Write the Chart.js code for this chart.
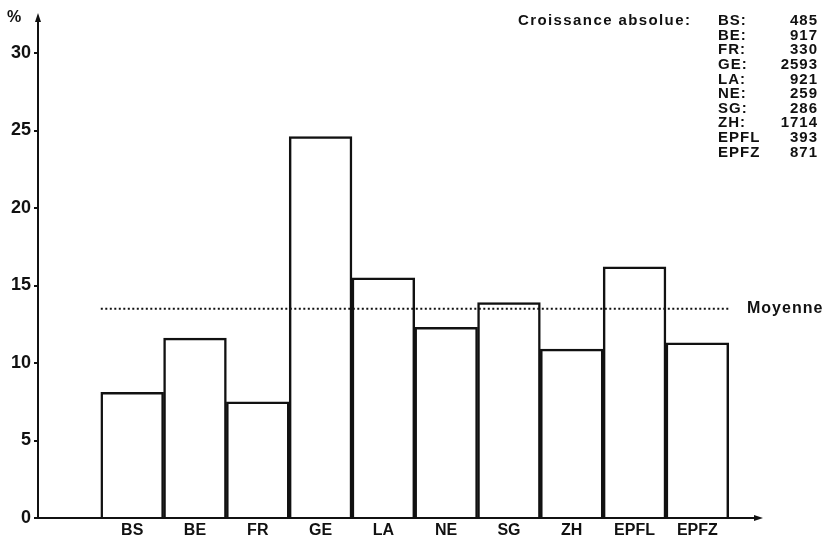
<!DOCTYPE html>
<html>
<head>
<meta charset="utf-8">
<script src="https://cdn.jsdelivr.net/npm/chart.js@4.4.0/dist/chart.umd.min.js"></script>
<style>
  html, body { margin: 0; padding: 0; background: #fff; }
  #wrap { width: 828px; height: 547px; }
</style>
</head>
<body>
<div id="wrap"><canvas id="growth"></canvas></div>
<script>
const categories = ["BS", "BE", "FR", "GE", "LA", "NE", "SG", "ZH", "EPFL", "EPFZ"];
const growthPct = [8.1, 11.6, 7.5, 24.6, 15.5, 12.3, 13.9, 10.9, 16.2, 11.3];
const absoluteGrowth = [485, 917, 330, 2593, 921, 259, 286, 1714, 393, 871];
const averagePct = 13.5;
const yTicks = [0, 5, 10, 15, 20, 25, 30];

const listCodes = ["BS:", "BE:", "FR:", "GE:", "LA:", "NE:", "SG:", "ZH:", "EPFL", "EPFZ"];

const ink = "#111";
const fontFamily = "'Liberation Sans', Arial, sans-serif";

// arrows, "%" and the text block on the right
const extras = {
  id: "extras",
  afterDraw(chart) {
    const c = chart.ctx;
    const y = chart.scales.y;
    const area = chart.chartArea;
    c.save();
    c.fillStyle = ink;
    c.strokeStyle = ink;

    // y arrow
    c.beginPath();
    c.moveTo(area.left, area.top - 9);
    c.lineTo(area.left - 3, area.top);
    c.lineTo(area.left + 3, area.top);
    c.closePath();
    c.fill();
    // x arrow
    const y0 = y.getPixelForValue(0);
    c.beginPath();
    c.moveTo(area.right + 6, y0);
    c.lineTo(area.right - 3, y0 - 3);
    c.lineTo(area.right - 3, y0 + 3);
    c.closePath();
    c.fill();

    c.textBaseline = "middle";
    c.font = "bold 16px " + fontFamily;
    c.textAlign = "left";
    c.fillText("%", 7, area.top - 4);

    c.letterSpacing = "1px";
    c.fillText("Moyenne", area.right - 10, y.getPixelForValue(averagePct));

    c.font = "bold 15px " + fontFamily;
    c.letterSpacing = "1.4px";
    c.fillText("Croissance absolue:", 518, 21);
    c.letterSpacing = "1px";
    listCodes.forEach((code, i) => {
      const ty = 21 + i * 14.6;
      c.textAlign = "left";
      c.fillText(code, 718, ty);
      c.textAlign = "right";
      c.fillText(String(absoluteGrowth[i]), 818, ty);
    });
    c.restore();
  }
};

new Chart(document.getElementById("growth"), {
  type: "bar",
  data: {
    datasets: [
      {
        type: "line",
        label: "Moyenne",
        data: [{ x: 0.5, y: averagePct }, { x: 10.5, y: averagePct }],
        borderColor: ink,
        borderWidth: 2,
        borderDash: [2, 2.5],
        pointRadius: 0,
        order: 0,
      },
      {
        label: "Croissance en %",
        data: categories.map((c, i) => ({ x: i + 1, y: growthPct[i] })),
        backgroundColor: "#fff",
        borderColor: ink,
        borderWidth: 2.5,
        barPercentage: 1,
        categoryPercentage: 1,
        order: 1,
      },
    ],
  },
  options: {
    responsive: true,
    maintainAspectRatio: false,
    animation: false,
    layout: { padding: { top: 22, right: 71, left: 0, bottom: 0 } },
    plugins: { legend: { display: false }, tooltip: { enabled: false } },
    scales: {
      x: {
        type: "linear",
        offset: false,
        min: -0.5,
        max: 10.95,
        afterBuildTicks: (s) => { s.ticks = categories.map((c, i) => ({ value: i + 1 })); },
        afterFit: (s) => { s.height = 29; },
        grid: { display: false, drawTicks: false },
        border: { color: ink, width: 2 },
        ticks: {
          color: ink,
          font: { family: fontFamily, size: 16, weight: "bold" },
          padding: 3,
          autoSkip: false,
          maxRotation: 0,
          callback: (v) => categories[v - 1],
        },
      },
      y: {
        min: 0,
        max: 32,
        afterBuildTicks: (s) => { s.ticks = yTicks.map((v) => ({ value: v })); },
        afterFit: (s) => { s.width = 38; },
        grid: { drawOnChartArea: false, color: ink, lineWidth: 2, tickLength: 4 },
        border: { color: ink, width: 2 },
        ticks: {
          color: ink,
          font: { family: fontFamily, size: 18, weight: "bold" },
          padding: 3,
        },
      },
    },
  },
  plugins: [extras],
});
</script>
</body>
</html>
